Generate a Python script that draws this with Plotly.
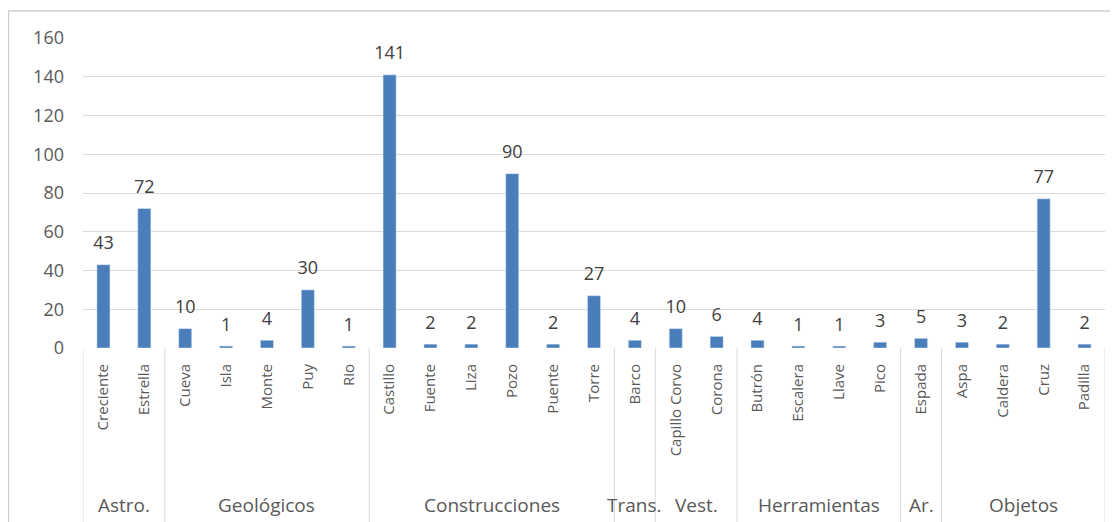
import plotly.graph_objects as go

groups = ["Astro.", "Astro.",
          "Geológicos", "Geológicos", "Geológicos", "Geológicos", "Geológicos",
          "Construcciones", "Construcciones", "Construcciones", "Construcciones", "Construcciones", "Construcciones",
          "Trans.",
          "Vest.", "Vest.",
          "Herramientas", "Herramientas", "Herramientas", "Herramientas",
          "Ar.",
          "Objetos", "Objetos", "Objetos", "Objetos"]
names = ["Creciente", "Estrella",
         "Cueva", "Isla", "Monte", "Puy", "Rio",
         "Castillo", "Fuente", "Liza", "Pozo", "Puente", "Torre",
         "Barco",
         "Capillo Corvo", "Corona",
         "Butrón", "Escalera", "Llave", "Pico",
         "Espada",
         "Aspa", "Caldera", "Cruz", "Padilla"]
counts = [43, 72, 10, 1, 4, 30, 1, 141, 2, 2, 90, 2, 27, 4, 10, 6, 4, 1, 1, 3, 5, 3, 2, 77, 2]
y_ticks = [0, 20, 40, 60, 80, 100, 120, 140, 160]

font_family = "Open Sans, Noto Sans, sans-serif"
grid_col = "#d9d9d9"

fig = go.Figure()
fig.add_trace(go.Bar(x=names, y=counts, marker=dict(color="#4a7ebb"), hoverinfo="x+y"))
# value labels floated a bit above each bar
fig.add_trace(go.Scatter(
    x=names, y=counts, mode="markers+text",
    marker=dict(size=16, color="rgba(0,0,0,0)"),
    text=[str(v) for v in counts], textposition="top center",
    textfont=dict(size=18, color="#404040", family=font_family),
    cliponaxis=False, hoverinfo="skip",
))

# group runs -> divider positions and label centres
runs = []
start = 0
for i in range(1, len(groups) + 1):
    if i == len(groups) or groups[i] != groups[start]:
        runs.append((groups[start], start, i - 1))
        start = i

shapes = []
for _, a, b in runs:
    shapes.append(dict(type="line", xref="x", yref="paper", x0=a - 0.5, x1=a - 0.5,
                       y0=0, y1=-0.6, line=dict(color=grid_col, width=1)))
shapes.append(dict(type="line", xref="x", yref="paper", x0=len(names) - 0.5, x1=len(names) - 0.5,
                   y0=0, y1=-0.6, line=dict(color=grid_col, width=1)))
# outer chart border
shapes.append(dict(type="rect", xref="paper", yref="paper",
                   x0=-0.0729, x1=1.05, y0=-0.7, y1=1.087,
                   line=dict(color="#d0d0d0", width=1.5), layer="below"))

annotations = [dict(x=(a + b) / 2, y=-0.506, xref="x", yref="paper", text=g, showarrow=False,
                    yanchor="middle", font=dict(size=19, color="#595959", family=font_family))
               for g, a, b in runs]

fig.update_layout(
    width=1110, height=514,
    margin=dict(l=75, r=13, t=30, b=174),
    plot_bgcolor="white", paper_bgcolor="white",
    bargap=0.68,
    showlegend=False,
    font=dict(family=font_family, color="#595959"),
    xaxis=dict(
        type="category", tickangle=-90, range=[-0.5, len(names) - 0.5],
        tickfont=dict(size=15, color="#595959"),
        showgrid=False, ticks="", showline=False, ticklabelstandoff=12,
    ),
    yaxis=dict(
        range=[0, 160], tickvals=y_ticks,
        tickfont=dict(size=18, color="#595959"),
        showgrid=True, gridcolor=grid_col, gridwidth=1,
        zeroline=False, showline=False, ticks="", ticklabelstandoff=18,
    ),
    shapes=shapes,
    annotations=annotations,
)

fig.write_html("out.html")
